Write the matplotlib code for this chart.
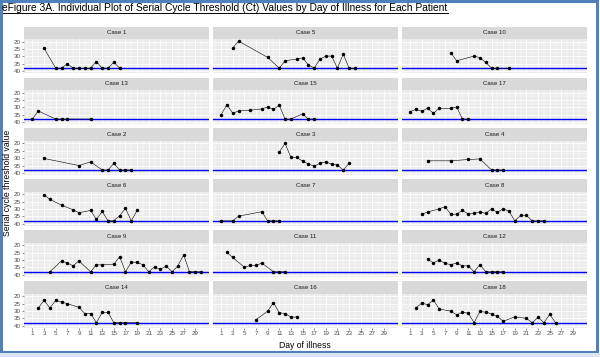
import matplotlib
matplotlib.use('Agg')
import matplotlib.pyplot as plt
from matplotlib.patches import Rectangle
from matplotlib.lines import Line2D
from matplotlib.ticker import FixedLocator

plt.rcParams['font.family'] = ['Liberation Sans', 'DejaVu Sans']

# ---------------- data ----------------
title = "eFigure 3A. Individual Plot of Serial Cycle Threshold (Ct) Values by Day of Illness for Each Patient"
x_label = "Day of illness"
y_label = "Serial cycle threshold value"
x_ticks = list(range(1, 30, 2))
y_ticks = [20, 25, 30, 35, 40]
negative_cutoff = 38

case_order = ["Case 1", "Case 5", "Case 10",
              "Case 13", "Case 15", "Case 17",
              "Case 2", "Case 3", "Case 4",
              "Case 6", "Case 7", "Case 8",
              "Case 9", "Case 11", "Case 12",
              "Case 14", "Case 16", "Case 18"]

case1_days = [3, 5, 6, 7, 8, 9, 10, 11, 12, 13, 14, 15, 16]
case1_ct = [24.5, 38, 38, 35, 38, 38, 38, 38, 33.5, 38, 38, 34, 38]
case5_days = [3, 4, 9, 11, 12, 14, 15, 16, 17, 18, 19, 20, 21, 22, 23, 24]
case5_ct = [24.3, 19.6, 30.7, 38, 33, 31.8, 31, 35.7, 38, 31.8, 29.8, 29.8, 38, 28.4, 38, 38]
case10_days = [8, 9, 12, 13, 14, 15, 16, 18]
case10_ct = [27.7, 33, 29.8, 30.9, 34.1, 38, 38, 38]
case13_days = [1, 2, 5, 6, 7, 11]
case13_ct = [38, 32.5, 38, 38, 38, 38]
case15_days = [1, 2, 3, 4, 6, 8, 9, 10, 11, 12, 13, 15, 16, 17]
case15_ct = [35, 28.2, 34.1, 32.5, 32, 31.1, 29.8, 31.4, 28.6, 38, 38, 34.5, 38, 38]
case17_days = [1, 2, 3, 4, 5, 6, 8, 9, 10, 11]
case17_ct = [33, 31.4, 32.7, 30.7, 34.1, 30.7, 30.7, 29.8, 38, 38]
case2_days = [3, 9, 11, 13, 14, 15, 16, 17, 18]
case2_ct = [30.2, 35, 32.5, 38, 38, 33.6, 38, 38, 38]
case3_days = [11, 12, 13, 14, 15, 16, 17, 18, 19, 20, 21, 22, 23]
case3_ct = [25.7, 20, 29.5, 29.5, 32, 33.9, 35.5, 33.4, 32.5, 34.1, 34.5, 38.2, 33.4]
case4_days = [4, 8, 11, 13, 15, 16, 17]
case4_ct = [31.8, 31.8, 30.9, 30.5, 38, 38, 38]
case6_days = [3, 4, 6, 8, 9, 11, 12, 13, 14, 15, 16, 17, 18, 19]
case6_ct = [20.2, 23.4, 27.3, 30.5, 32.5, 30.9, 37, 31.6, 38, 38, 34.5, 29.5, 38, 30.9]
case7_days = [1, 3, 4, 8, 9, 10, 11]
case7_ct = [38, 38, 34.8, 31.8, 38, 38, 38]
case8_days = [3, 4, 6, 7, 8, 9, 10, 11, 12, 13, 14, 15, 16, 17, 18, 19, 20, 21, 22, 23, 24]
case8_ct = [33.6, 32, 29.8, 28.4, 33.6, 33.4, 30.9, 33.4, 33, 31.8, 33, 29.8, 32.3, 29.8, 31.4,
            38, 34.3, 34.3, 38, 38, 38]
case9_days = [4, 6, 7, 8, 9, 11, 12, 13, 15, 16, 17, 18, 19, 20, 21, 22, 23, 24, 25, 26, 27,
              28, 29, 30]
case9_ct = [38, 30.6, 32.2, 33.9, 30.6, 38, 33.3, 33.3, 32.8, 27.8, 38, 31.5, 31.5, 33.3, 38,
            34.6, 36.4, 34.1, 38, 34.1, 26.5, 38, 38, 38]
case11_days = [2, 3, 5, 6, 7, 8, 10, 11, 12]
case11_ct = [24.9, 28.3, 35, 33.7, 33.7, 32.1, 38, 38, 38]
case12_days = [4, 5, 6, 7, 8, 9, 10, 11, 12, 13, 14, 15, 16, 17]
case12_ct = [29.4, 31.9, 30.1, 32.3, 33.2, 32.1, 34, 34, 38, 33.2, 38, 38, 38, 38]
case14_days = [2, 3, 4, 5, 6, 7, 9, 10, 11, 12, 13, 14, 15, 16, 17, 19]
case14_ct = [28, 22.9, 28, 22.9, 24, 25.1, 27.6, 31.8, 31.8, 38, 31.1, 31.1, 38, 38, 38, 38]
case16_days = [7, 9, 10, 11, 12, 13, 14]
case16_ct = [36, 30.2, 24.4, 31.3, 31.8, 34.2, 34.2]
case18_days = [2, 3, 4, 5, 6, 8, 9, 10, 11, 12, 13, 14, 15, 16, 17, 19, 21, 22, 23, 24, 25, 26]
case18_ct = [28, 24.7, 25.8, 22.7, 28.7, 30.2, 32.7, 30.9, 31.6, 38, 30.4, 30.9, 32, 33.8, 37.1,
             34, 35.1, 38, 34.4, 38, 32.4, 38]

case_data = {
    "Case 1": (case1_days, case1_ct), "Case 5": (case5_days, case5_ct),
    "Case 10": (case10_days, case10_ct), "Case 13": (case13_days, case13_ct),
    "Case 15": (case15_days, case15_ct), "Case 17": (case17_days, case17_ct),
    "Case 2": (case2_days, case2_ct), "Case 3": (case3_days, case3_ct),
    "Case 4": (case4_days, case4_ct), "Case 6": (case6_days, case6_ct),
    "Case 7": (case7_days, case7_ct), "Case 8": (case8_days, case8_ct),
    "Case 9": (case9_days, case9_ct), "Case 11": (case11_days, case11_ct),
    "Case 12": (case12_days, case12_ct), "Case 14": (case14_days, case14_ct),
    "Case 16": (case16_days, case16_ct), "Case 18": (case18_days, case18_ct),
}

# ---------------- layout ----------------
W, H = 600, 357
fig = plt.figure(figsize=(W / 100, H / 100), dpi=100)
fig.patch.set_facecolor('white')


def add_px_axes(left, top, width, height, **kw):
    return fig.add_axes([left / W, 1 - (top + height) / H, width / W, height / H], **kw)


col_left = [24, 212.7, 401.7]
col_w = 185.5
strip_top0 = 26.7
pitch = 50.9
strip_h = 12.6
panel_h = 34
xlim = (-0.45, 31.45)
ylim = (41.5, 18.4)
tick_col = '#4D4D4D'

for i, name in enumerate(case_order):
    r, c = divmod(i, 3)
    st = strip_top0 + r * pitch
    # strip
    sax = add_px_axes(col_left[c], st, col_w, strip_h)
    sax.set_facecolor('#D9D9D9')
    sax.set_xticks([]); sax.set_yticks([])
    for s in sax.spines.values():
        s.set_visible(False)
    sax.text(0.5, 0.5, name, ha='center', va='center', fontsize=4.4, color='#1A1A1A',
             transform=sax.transAxes)
    # panel
    ax = add_px_axes(col_left[c], st + strip_h, col_w, panel_h)
    ax.set_facecolor('#EBEBEB')
    for s in ax.spines.values():
        s.set_visible(False)
    ax.set_xlim(*xlim)
    ax.set_ylim(*ylim)
    ax.xaxis.set_major_locator(FixedLocator(x_ticks))
    ax.xaxis.set_minor_locator(FixedLocator(list(range(0, 32, 2))))
    ax.yaxis.set_major_locator(FixedLocator(y_ticks))
    ax.yaxis.set_minor_locator(FixedLocator([22.5, 27.5, 32.5, 37.5]))
    ax.grid(which='major', color='white', linewidth=0.6)
    ax.grid(which='minor', color='white', linewidth=0.35)
    ax.set_axisbelow(True)
    ax.tick_params(which='minor', length=0)
    ax.tick_params(which='major', length=1.5, width=0.4, color='#333333',
                   labelsize=4.5, labelcolor=tick_col, pad=1)
    if c != 0:
        ax.tick_params(axis='y', which='major', length=0, labelleft=False)
    if r != 5:
        ax.tick_params(axis='x', which='major', length=0, labelbottom=False)
    ax.axhline(negative_cutoff, color='#0000FF', linewidth=1.0, zorder=2)
    d, v = case_data[name]
    ax.plot(d, v, color='black', linewidth=0.4, zorder=3)
    ax.plot(d, v, 'o', color='black', markersize=1.5, zorder=4)

# axis titles
fig.text(8 / W, 1 - 183 / H, y_label, rotation=90, ha='center', va='center', fontsize=6.2)
fig.text(305 / W, 1 - 346 / H, x_label, ha='center', va='center', fontsize=6.2)

# title with underline
t = fig.text(2.5 / W, 1 - 8 / H, title, ha='left', va='center', fontsize=7.35)
fig.canvas.draw()
bb = t.get_window_extent(renderer=fig.canvas.get_renderer())
uy = (bb.y0 + 0.3) / H
fig.add_artist(Line2D([bb.x0 / W, bb.x1 / W], [uy, uy], color='black', linewidth=0.7,
                      transform=fig.transFigure))

# blue frame
fig.add_artist(Rectangle((1.2 / W, 1 - 351.5 / H), 596 / W, 350.3 / H, transform=fig.transFigure,
                         fill=False, edgecolor='#4F81BD', linewidth=2.2))
fig.add_artist(Rectangle((0, 0), 1, 4 / H, transform=fig.transFigure,
                         facecolor='#DDE6F0', edgecolor='none'))

fig.savefig('out.png', dpi=100)
